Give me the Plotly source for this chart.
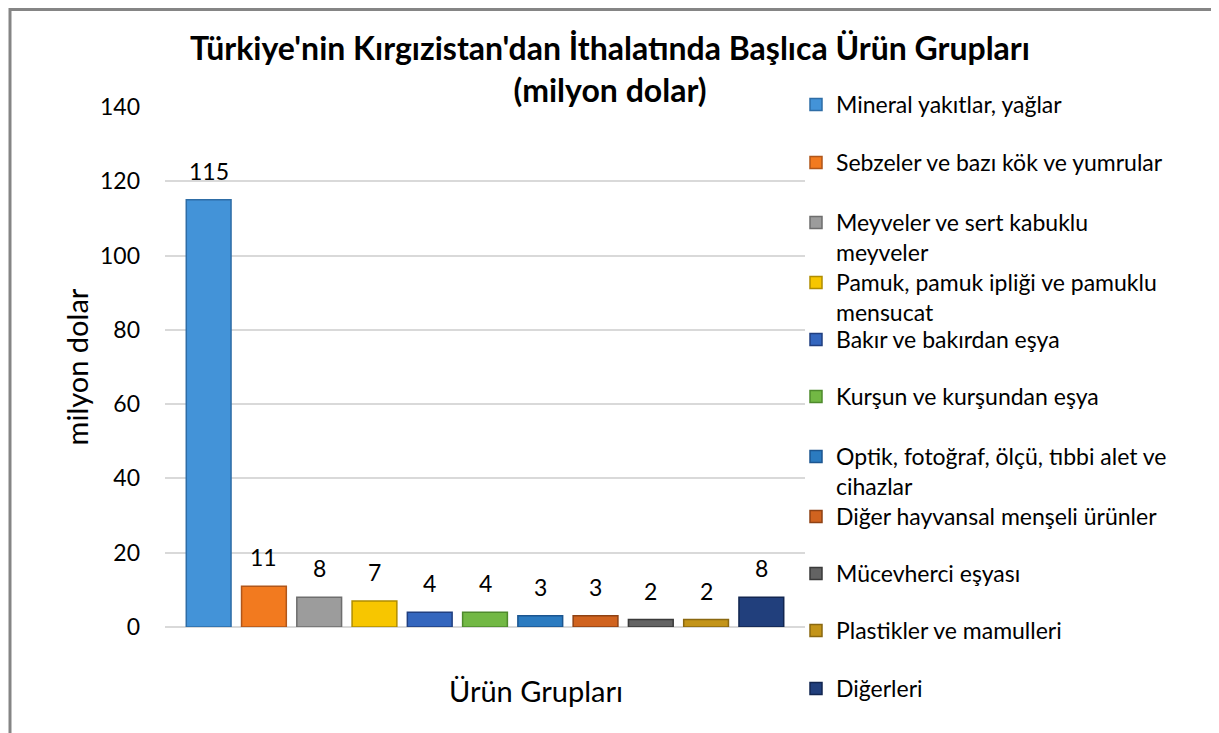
import plotly.graph_objects as go

categories = [
    "Mineral yakıtlar, yağlar",
    "Sebzeler ve bazı kök ve yumrular",
    "Meyveler ve sert kabuklu<br>meyveler",
    "Pamuk, pamuk ipliği ve pamuklu<br>mensucat",
    "Bakır ve bakırdan eşya",
    "Kurşun ve kurşundan eşya",
    "Optik, fotoğraf, ölçü, tıbbi alet ve<br>cihazlar",
    "Diğer hayvansal menşeli ürünler",
    "Mücevherci eşyası",
    "Plastikler ve mamulleri",
    "Diğerleri",
]
values = [115, 11, 8, 7, 4, 4, 3, 3, 2, 2, 8]
colors = ["#4393D8", "#F27A1F", "#9C9C9C", "#F7C600", "#3466BE", "#72B844",
          "#2B7BC0", "#D0631F", "#636363", "#C39419", "#213F7C"]
edge_colors = ["#2E6DA6", "#B0561A", "#6E6E6E", "#B08D00", "#203F80", "#4E8A2C",
               "#1C5690", "#8F4214", "#3A3A3A", "#8A6810", "#122650"]
yticks = [0, 20, 40, 60, 80, 100, 120, 140]

# layout (figure pixel coordinates; page has an 8px body margin)
OFF = 8
legend_centres = [105, 163, 223, 283, 340, 397, 457, 517, 574, 631, 689]

W, H = 1211, 725
L, R, T, B = 165 - OFF, 805 - OFF, 107 - OFF, 627 - OFF
PW, PH = R - L, B - T

FONT = "Lato"

fig = go.Figure()
for i, (c, v) in enumerate(zip(categories, values)):
    key = "legend" if i == 0 else f"legend{i+1}"
    fig.add_trace(go.Bar(
        x=[c], y=[v], name=c, width=0.81,
        marker=dict(color=colors[i], line=dict(color=edge_colors[i], width=1.5)),
        legend=key, showlegend=True,
        hovertemplate="%{y}<extra>" + c.replace("<br>", " ") + "</extra>",
    ))
    fig.add_annotation(x=c, y=v, text=str(v), showarrow=False, xref="x", yref="y",
                       yanchor="bottom", yshift=13,
                       font=dict(family=FONT, size=23, color="#000000"))

layout_legends = {}
for i, yc in enumerate(legend_centres):
    key = "legend" if i == 0 else f"legend{i+1}"
    yf = yc - OFF
    layout_legends[key] = dict(
        x=(788 - L) / PW, xanchor="left",
        y=(B - (yf - 22)) / PH, yanchor="top",
        font=dict(family=FONT, size=23, color="#000000"),
        bgcolor="rgba(0,0,0,0)", valign="top",
    )

fig.update_layout(
    width=W, height=H,
    margin=dict(l=L, r=W - R, t=T, b=H - B, autoexpand=False),
    paper_bgcolor="white", plot_bgcolor="white",
    barmode="overlay",
    title=dict(
        text="Türkiye'nin Kırgızistan'dan İthalatında Başlıca Ürün Grupları<br>(milyon dolar)",
        x=(610 - OFF) / W, xref="container", xanchor="center",
        y=1 - 52 / H, yref="container", yanchor="middle",
        font=dict(family=FONT, size=32, color="#000000", weight="bold"),
    ),
    xaxis=dict(
        type="category", range=[-0.79, 10.79], showticklabels=False,
        showgrid=False, zeroline=False, showline=False, ticks="",
    ),
    yaxis=dict(
        range=[0, 140], tickvals=yticks, showgrid=True, gridcolor="#D9D9D9", gridwidth=1.5,
        zeroline=True, zerolinecolor="#D9D9D9", zerolinewidth=1.5,
        showline=False, ticks="", ticklabelstandoff=24,
        tickfont=dict(family=FONT, size=23, color="#000000"),
        title=dict(text="milyon dolar", standoff=2,
                   font=dict(family=FONT, size=29, color="#000000")),
    ),
    showlegend=True,
    **layout_legends,
)

fig.add_annotation(text="Ürün Grupları", x=(536 - OFF - L) / PW, y=(B - (690 - OFF)) / PH,
                   xref="paper", yref="paper", showarrow=False,
                   xanchor="center", yanchor="middle",
                   font=dict(family=FONT, size=29, color="#000000"))

fig.add_shape(type="rect", xref="paper", yref="paper",
              x0=(10 - OFF - L) / PW, x1=(1215 - OFF - L) / PW,
              y0=(B - 760) / PH, y1=(B - 1.5) / PH,
              line=dict(color="#858585", width=3), fillcolor="rgba(0,0,0,0)", layer="below")

fig.write_html("out.html")
